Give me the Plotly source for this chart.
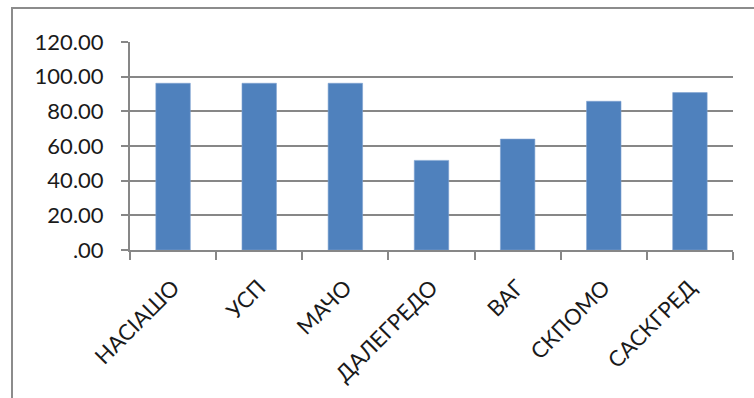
import plotly.graph_objects as go

# Categories and values
categories = ["НАСІАШО", "УСП", "МАЧО", "ДАЛЕГРЕДО", "ВАГ", "СКПОМО", "САСКГРЕД"]
values = [96.2, 96.2, 96.2, 51.7, 64.0, 85.8, 90.8]

y_tickvals = [0, 20, 40, 60, 80, 100, 120]
y_ticktext = [".00", "20.00", "40.00", "60.00", "80.00", "100.00", "120.00"]

W, H = 754, 398
ML, MR, MT, MB = 130, 21, 42, 148
plot_w = W - ML - MR
plot_h = H - MT - MB

AXIS_GREY = "#878787"
FONT = "Lato"

fig = go.Figure(
    go.Bar(
        x=categories,
        y=values,
        marker=dict(color="#4F81BD", line=dict(color="#7FA3D2", width=0.6)),
        width=0.4,
    )
)

fig.update_layout(
    width=W,
    height=H,
    margin=dict(l=ML, r=MR, t=MT, b=MB),
    paper_bgcolor="white",
    plot_bgcolor="white",
    showlegend=False,
    font=dict(family=FONT, size=20, color="#1a1a1a"),
    bargap=0.6,
)

fig.update_xaxes(
    type="category",
    tickson="boundaries",
    ticks="outside",
    ticklen=8,
    tickwidth=2,
    tickcolor=AXIS_GREY,
    showline=True,
    linecolor=AXIS_GREY,
    linewidth=2,
    showgrid=False,
    tickangle=-45,
    ticklabelstandoff=14,
    tickfont=dict(family=FONT, size=22, color="#1a1a1a"),
)

fig.update_yaxes(
    range=[0, 120],
    tickvals=y_tickvals,
    ticktext=y_ticktext,
    ticks="outside",
    ticklen=7,
    tickwidth=2,
    tickcolor=AXIS_GREY,
    showline=True,
    linecolor=AXIS_GREY,
    linewidth=2,
    showgrid=True,
    gridcolor=AXIS_GREY,
    gridwidth=2,
    zeroline=False,
    ticklabelstandoff=13,
    tickfont=dict(family=FONT, size=22, color="#1a1a1a"),
)

# Outer chart frame (runs off the right and bottom of the page)
fig.add_shape(
    type="rect",
    xref="paper",
    yref="paper",
    x0=(12 - ML) / plot_w,
    x1=1.2,
    y0=-1.0,
    y1=(H - MB - 8) / plot_h,
    line=dict(color="#8c8c8c", width=2),
    fillcolor="rgba(0,0,0,0)",
    layer="below",
)

fig.write_html("out.html")
